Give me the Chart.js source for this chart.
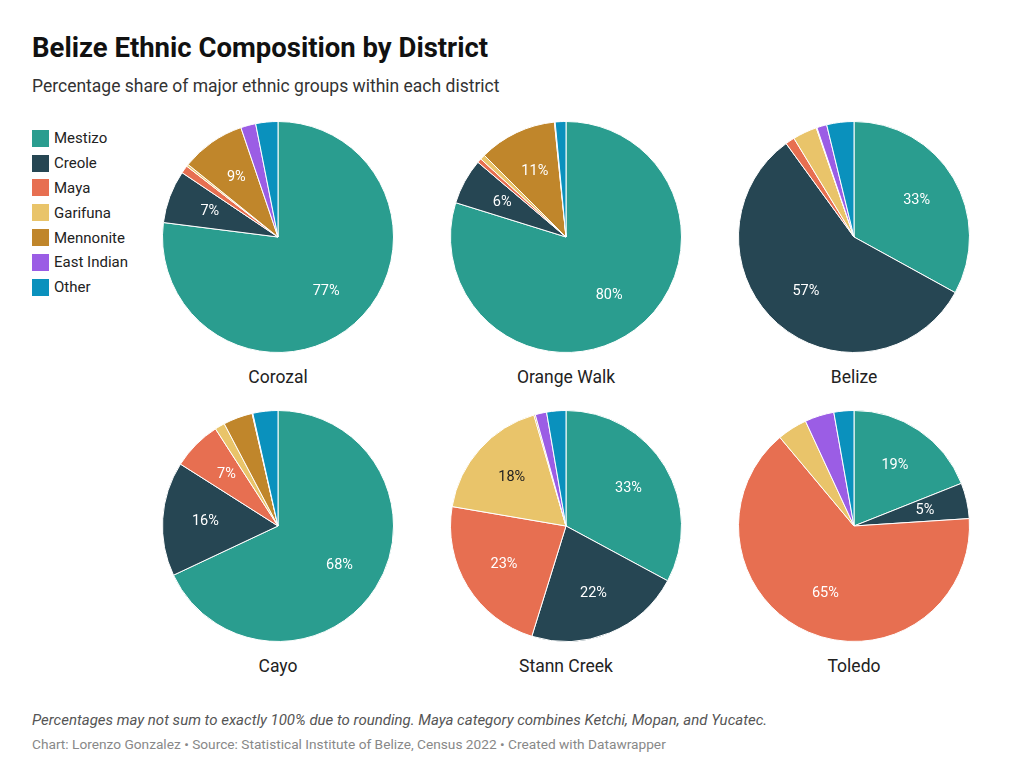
<!DOCTYPE html>
<html>
<head>
<meta charset="utf-8">
<script src="https://cdn.jsdelivr.net/npm/chart.js@4"></script>
<style>
  body { margin: 0; background: #fff; font-family: Roboto, sans-serif; color: #222; }
  #page { position: relative; width: 1024px; height: 784px; overflow: hidden; }
  h1 { position: absolute; left: 32px; top: 31px; margin: 0; font-size: 27.5px; font-weight: 700; color: #111; }
  .sub { position: absolute; left: 32px; top: 76px; font-size: 17.5px; color: #333; }
  #legend { position: absolute; left: 32px; top: 126px; font-size: 15px; color: #222; }
  .item { height: 24.8px; display: flex; align-items: center; }
  .sw { width: 17px; height: 17px; margin-right: 5px; }
  .pie { position: absolute; }
  .name { position: absolute; width: 240px; text-align: center; font-size: 17.5px; color: #222; }
  .note { position: absolute; left: 32px; top: 711px; font-size: 15px; font-style: italic; color: #555; }
  .src { position: absolute; left: 32px; top: 736px; font-size: 13.7px; color: #888; }
</style>
</head>
<body>
<div id="page">
  <h1>Belize Ethnic Composition by District</h1>
  <div class="sub">Percentage share of major ethnic groups within each district</div>
  <div id="legend"></div>
  <div class="note">Percentages may not sum to exactly 100% due to rounding. Maya category combines Ketchi, Mopan, and Yucatec.</div>
  <div class="src">Chart: Lorenzo Gonzalez • Source: Statistical Institute of Belize, Census 2022 • Created with Datawrapper</div>
</div>
<script>
// Data
const groups = ['Mestizo', 'Creole', 'Maya', 'Garifuna', 'Mennonite', 'East Indian', 'Other'];
const districts = ['Corozal', 'Orange Walk', 'Belize', 'Cayo', 'Stann Creek', 'Toledo'];
const corozal = [77, 7.4, 1.1, 0.3, 9, 2.1, 3.1];
const orangeWalk = [79.8, 6.4, 0.6, 0.7, 10.9, 0.1, 1.5];
const belize = [33, 57, 1.3, 3.4, 0.1, 1.4, 3.8];
const cayo = [68, 16, 6.9, 1.4, 4.1, 0.1, 3.5];
const stannCreek = [33, 22, 23, 17.9, 0.2, 1.6, 2.7];
const toledo = [19, 5, 65, 4.2, 0, 4.1, 2.8];
const districtValues = [corozal, orangeWalk, belize, cayo, stannCreek, toledo];

const colors = ['#2a9d8f', '#264653', '#e76f51', '#e9c46a', '#c0862b', '#9b5de5', '#0a91bd'];
const labelColors = ['#fff', '#fff', '#fff', '#222', '#fff', '#fff', '#fff'];

const page = document.getElementById('page');

// Legend
const legend = document.getElementById('legend');
groups.forEach((g, i) => {
    const item = document.createElement('div');
    item.className = 'item';
    item.innerHTML = `<div class="sw" style="background:${colors[i]}"></div>${g}`;
    legend.appendChild(item);
});

// Percentage labels inside slices
const sliceLabels = {
    id: 'sliceLabels',
    afterDatasetsDraw(chart) {
        const ctx = chart.ctx;
        const meta = chart.getDatasetMeta(0);
        const data = chart.data.datasets[0].data;
        ctx.save();
        ctx.font = '14.5px Roboto';
        ctx.textAlign = 'center';
        ctx.textBaseline = 'middle';
        meta.data.forEach((arc, i) => {
            if (data[i] < 4.5) return;
            const mid = (arc.startAngle + arc.endAngle) / 2;
            const r = arc.outerRadius * 0.63;
            ctx.fillStyle = labelColors[i];
            ctx.fillText(Math.round(data[i]) + '%', arc.x + Math.cos(mid) * r, arc.y + Math.sin(mid) * r);
        });
        ctx.restore();
    }
};

const centersX = [278, 566, 854];
const centersY = [237, 526];
const size = 232;

districts.forEach((d, i) => {
    const cx = centersX[i % 3];
    const cy = centersY[Math.floor(i / 3)];

    const canvas = document.createElement('canvas');
    canvas.className = 'pie';
    canvas.width = size;
    canvas.height = size;
    canvas.style.left = (cx - size / 2) + 'px';
    canvas.style.top = (cy - size / 2) + 'px';
    canvas.style.width = size + 'px';
    canvas.style.height = size + 'px';
    page.appendChild(canvas);

    const name = document.createElement('div');
    name.className = 'name';
    name.textContent = d;
    name.style.left = (cx - 120) + 'px';
    name.style.top = (cy + 130) + 'px';
    page.appendChild(name);

    new Chart(canvas.getContext('2d'), {
        type: 'pie',
        data: {
            labels: groups,
            datasets: [{
                data: districtValues[i],
                backgroundColor: colors,
                borderColor: '#fff',
                borderWidth: 1
            }]
        },
        options: {
            responsive: false,
            animation: false,
            layout: { padding: 0 },
            plugins: {
                legend: { display: false },
                tooltip: { enabled: false }
            }
        },
        plugins: [sliceLabels]
    });
});
</script>
</body>
</html>
